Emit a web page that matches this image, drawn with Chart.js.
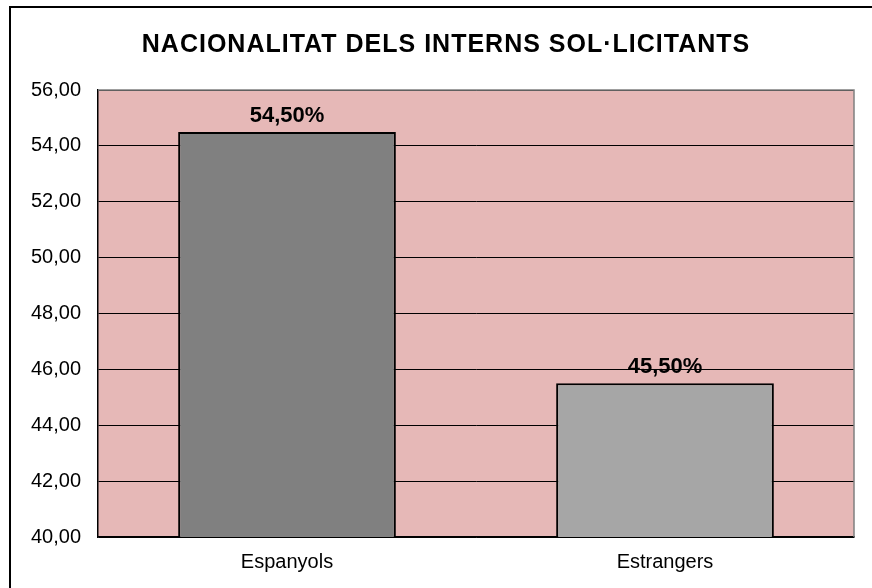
<!DOCTYPE html>
<html>
<head>
<meta charset="utf-8">
<script src="https://cdn.jsdelivr.net/npm/chart.js@4.4.0/dist/chart.umd.min.js"></script>
<style>
  html, body { margin: 0; padding: 0; background: #fff; }
  #wrap { width: 872px; height: 588px; }
</style>
</head>
<body>
<div id="wrap"><canvas id="chart" width="872" height="588"></canvas></div>
<script>
// Dades
const titol = "NACIONALITAT DELS INTERNS SOL·LICITANTS";
const categories = ["Espanyols", "Estrangers"];
const percentatges = [54.5, 45.5];
const colorsBarres = ["#808080", "#A6A6A6"];
const yMin = 40, yMax = 56, yPas = 2;

const FONT = "'Liberation Sans', Arial, sans-serif";
const coma = v => v.toFixed(2).replace(".", ",");

// Fons de l'àrea de dibuix, títol i marc exterior
const fonsPlugin = {
    id: "fons",
    beforeDraw(chart) {
        const { ctx, chartArea: a } = chart;
        ctx.save();
        ctx.fillStyle = "#E6B8B7";
        ctx.fillRect(a.left, a.top, a.right - a.left, a.bottom - a.top);
        ctx.restore();
    },
    afterDraw(chart) {
        const { ctx, chartArea: a } = chart;
        ctx.save();
        ctx.strokeStyle = "#808080";
        ctx.lineWidth = 1.5;
        ctx.beginPath();
        ctx.moveTo(a.left, a.top);
        ctx.lineTo(a.right, a.top);
        ctx.lineTo(a.right, a.bottom);
        ctx.stroke();
        ctx.strokeStyle = "#000";
        ctx.lineWidth = 2;
        ctx.strokeRect(10, 7, 1000, 1000);

        // títol
        ctx.font = "bold 25px " + FONT;
        ctx.letterSpacing = "1px";
        ctx.fillStyle = "#000";
        ctx.textAlign = "center";
        ctx.textBaseline = "middle";
        ctx.fillText(titol, 446, 45);
        ctx.restore();
    }
};

// Etiquetes de valor damunt de cada barra
const etiquetesPlugin = {
    id: "etiquetes",
    afterDatasetsDraw(chart) {
        const { ctx } = chart;
        const meta = chart.getDatasetMeta(0);
        ctx.save();
        ctx.font = "bold 22px " + FONT;
        ctx.fillStyle = "#000";
        ctx.textAlign = "center";
        ctx.textBaseline = "bottom";
        meta.data.forEach((bar, i) => {
            ctx.fillText(coma(percentatges[i]) + "%", bar.x, bar.y - 5);
        });
        ctx.restore();
    }
};

new Chart(document.getElementById("chart"), {
    type: "bar",
    data: {
        labels: categories,
        datasets: [{
            data: percentatges,
            backgroundColor: colorsBarres,
            borderColor: "#000",
            borderWidth: 2,
            borderSkipped: false,
            categoryPercentage: 1,
            barPercentage: 0.576
        }]
    },
    options: {
        responsive: false,
        animation: false,
        layout: { padding: { left: 0, right: 18, top: 90, bottom: 0 } },
        plugins: {
            legend: { display: false },
            tooltip: { enabled: false },
            title: { display: false }
        },
        scales: {
            x: {
                grid: { display: false, drawTicks: false },
                border: { color: "#000", width: 1.5 },
                ticks: {
                    color: "#000",
                    padding: 13,
                    font: { family: FONT, size: 20 }
                },
                afterFit(s) { s.height = 51; }
            },
            y: {
                min: yMin,
                max: yMax,
                grid: { color: "#000", lineWidth: 1, drawTicks: false },
                border: { color: "#000", width: 1.5 },
                ticks: {
                    stepSize: yPas,
                    color: "#000",
                    padding: 17,
                    font: { family: FONT, size: 20 },
                    callback: v => coma(v)
                },
                afterFit(s) { s.width = 98; }
            }
        }
    },
    plugins: [fonsPlugin, etiquetesPlugin]
});
</script>
</body>
</html>
